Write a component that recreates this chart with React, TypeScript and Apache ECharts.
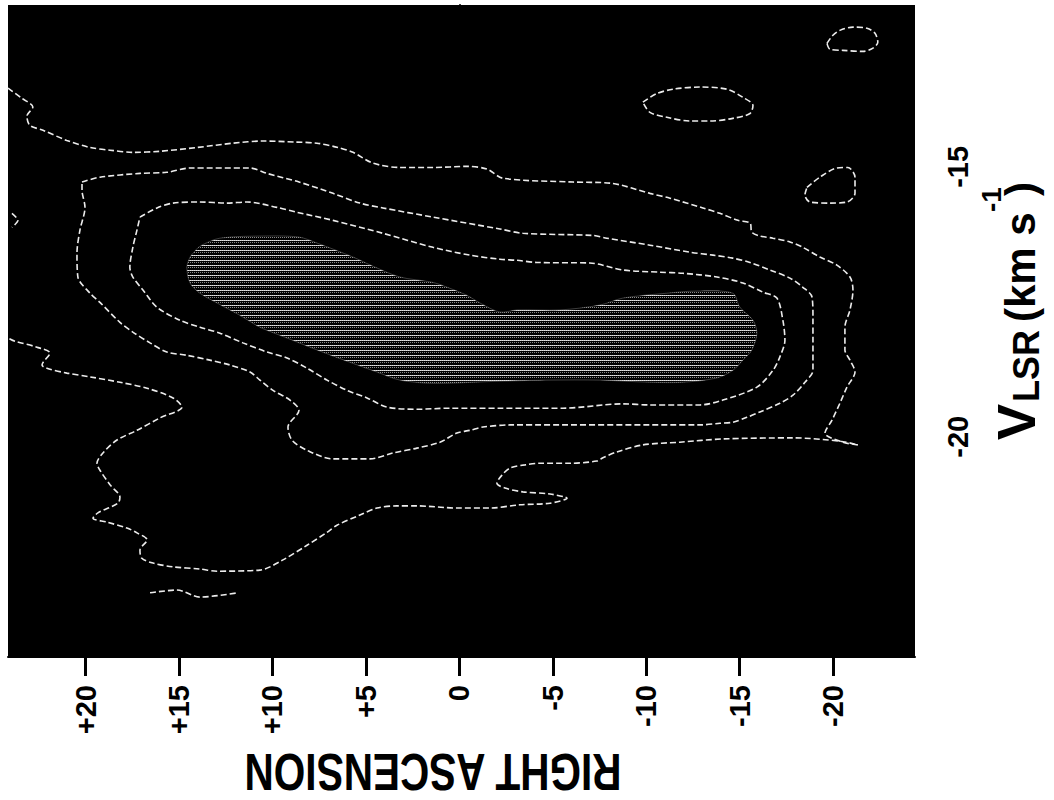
import { useEffect, useRef } from 'react';
import * as echarts from 'echarts';

type P = [number, number];

// Axis ticks (right ascension offset, LSR velocity in km/s)
const RA_TICKS = [20, 15, 10, 5, 0, -5, -10, -15, -20];
const VLSR_TICKS = [-20, -15];
const RA_MIN = -24.38;
const RA_MAX = 24.15;
const VLSR_MIN = -24.08;
const VLSR_MAX = -12.0;

// Lowest contour (open, leaves through the left edge)
const CONTOUR_OUTER: P[] = [
  [24.15, -13.54], [23.99, -13.58], [23.4, -13.73], [22.82, -13.89], [23.14, -14.06], [22.98, -14.23],
  [22.28, -14.32], [21.0, -14.51], [19.76, -14.64], [18.69, -14.69], [17.47, -14.73], [16.02, -14.71],
  [14.04, -14.64], [12.11, -14.56], [10.51, -14.52], [8.8, -14.54], [7.62, -14.56], [6.5, -14.64],
  [5.69, -14.73], [4.62, -14.93], [3.18, -15.01], [1.41, -15.01], [-0.41, -14.99], [-1.48, -15.04],
  [-2.33, -15.21], [-6.08, -15.28], [-8.06, -15.3], [-10.2, -15.49], [-11.27, -15.58], [-13.03, -15.76],
  [-13.94, -15.86], [-14.9, -15.99], [-15.55, -16.04], [-15.65, -16.21], [-16.08, -16.28], [-16.78, -16.32],
  [-17.69, -16.39], [-18.38, -16.49], [-19.29, -16.67], [-20.2, -16.82], [-20.9, -17.04], [-21.06, -17.28],
  [-20.9, -17.65], [-20.63, -17.97], [-20.63, -18.39], [-20.9, -18.58], [-21.17, -18.8], [-20.74, -19.08],
  [-20.36, -19.38], [-19.94, -19.69], [-19.56, -19.93], [-20.52, -20.1], [-21.33, -20.15], [-20.36, -20.08],
  [-17.85, -20.02], [-14.1, -20.04], [-11.8, -20.1], [-9.82, -20.15], [-8.43, -20.28], [-7.68, -20.39],
  [-7.36, -20.45], [-5.92, -20.49], [-4.31, -20.49], [-3.51, -20.52], [-2.71, -20.58], [-2.28, -20.71],
  [-2.01, -20.86], [-2.44, -20.95], [-3.4, -21.02], [-4.85, -21.06], [-5.76, -21.14], [-4.85, -21.23],
  [-3.24, -21.26], [-1.64, -21.32], [0.13, -21.32], [2.27, -21.28], [3.34, -21.28], [4.41, -21.32],
  [5.32, -21.45], [6.55, -21.64], [7.08, -21.77], [8.15, -22.01], [9.44, -22.28], [10.67, -22.47],
  [12.97, -22.49], [13.88, -22.45], [15.32, -22.41], [16.39, -22.34], [16.99, -22.25], [17.09, -22.1],
  [16.71, -21.91], [17.25, -21.78], [17.79, -21.69], [18.86, -21.58], [19.6, -21.51], [19.34, -21.41],
  [18.27, -21.23], [18.16, -21.12], [18.69, -20.89], [19.23, -20.62], [19.39, -20.49], [19.07, -20.3],
  [18.32, -20.06], [17.25, -19.88], [16.02, -19.65], [14.84, -19.45], [15.32, -19.28], [16.71, -19.1],
  [18.16, -18.99], [19.76, -18.89], [21.0, -18.82], [22.07, -18.73], [22.33, -18.67], [21.91, -18.45],
  [22.6, -18.34], [23.78, -18.23], [24.15, -18.17],
];

const FRAGMENT_LOW: P[] = [[16.55, -22.89], [15.11, -22.84], [13.88, -22.97], [11.85, -22.89]];
const FRAGMENT_EDGE: P[] = [[23.94, -15.86], [23.62, -15.99], [23.94, -16.12]];

const CONTOUR_MID: P[] = [
  [20.19, -15.28], [19.23, -15.19], [17.09, -15.12], [15.65, -15.1], [14.41, -15.02], [11.2, -15.02],
  [10.29, -15.12], [8.58, -15.28], [6.76, -15.49], [5.32, -15.67], [4.09, -15.76], [1.41, -15.93],
  [-2.17, -16.15], [-3.4, -16.23], [-7.15, -16.27], [-7.89, -16.32], [-10.2, -16.45], [-12.34, -16.58],
  [-13.57, -16.635], [-14.63, -16.69], [-15.55, -16.77], [-16.62, -16.91], [-17.69, -17.06], [-18.38, -17.23],
  [-18.87, -17.41], [-18.92, -17.78], [-18.92, -18.26], [-18.92, -18.77], [-18.49, -18.99], [-17.85, -19.23],
  [-17.15, -19.38], [-16.08, -19.54], [-15.38, -19.64], [-14.63, -19.73], [-13.94, -19.75], [-12.87, -19.78],
  [-2.71, -19.78], [-1.26, -19.82], [-0.57, -19.88], [0.13, -19.93], [1.04, -20.1], [2.27, -20.21],
  [3.55, -20.3], [4.78, -20.41], [6.76, -20.41], [8.15, -20.25], [8.96, -20.06], [9.17, -19.82],
  [8.58, -19.51], [9.06, -19.32], [9.97, -19.14], [10.67, -18.95], [11.2, -18.8], [12.27, -18.67],
  [13.35, -18.58], [14.58, -18.49], [15.65, -18.43], [16.55, -18.26], [17.47, -18.06], [18.16, -17.88],
  [19.23, -17.51], [19.76, -17.34], [20.41, -17.04], [20.46, -16.6], [20.3, -16.17], [20.03, -15.75],
  [20.19, -15.43],
];

const CONTOUR_INNER: P[] = [
  [17.09, -15.93], [16.18, -15.76], [15.32, -15.67], [13.88, -15.65], [12.44, -15.67], [11.36, -15.65],
  [9.76, -15.75], [8.69, -15.84], [6.76, -15.99], [4.09, -16.23], [1.41, -16.49], [-0.57, -16.635],
  [-2.17, -16.71], [-3.08, -16.73], [-4.15, -16.77], [-6.98, -16.78], [-8.75, -16.91], [-10.73, -16.95],
  [-11.96, -16.97], [-13.78, -17.04], [-15.17, -17.15], [-16.24, -17.32], [-16.99, -17.43], [-17.31, -17.84],
  [-17.42, -18.21], [-17.15, -18.52], [-16.78, -18.77], [-15.92, -19.08], [-14.1, -19.32], [-12.87, -19.41],
  [-10.2, -19.41], [-8.75, -19.39], [-5.54, -19.47], [-3.94, -19.47], [-2.17, -19.47], [0.5, -19.47],
  [2.27, -19.49], [3.87, -19.45], [4.94, -19.28], [6.01, -19.14], [7.08, -18.95], [8.15, -18.73],
  [9.22, -18.54], [10.29, -18.43], [11.58, -18.26], [12.81, -18.08], [13.88, -17.97], [14.95, -17.84],
  [16.18, -17.6], [16.93, -17.28], [17.47, -17.04], [17.63, -16.86], [17.47, -16.49], [17.25, -16.17],
];

const CORE_REGION: P[] = [
  [14.25, -16.6], [13.88, -16.47], [12.81, -16.32], [10.29, -16.28], [8.58, -16.3], [7.62, -16.41],
  [5.69, -16.67], [4.62, -16.84], [3.18, -17.04], [1.41, -17.14], [0.5, -17.25], [-0.41, -17.38],
  [-1.1, -17.52], [-2.17, -17.69], [-3.08, -17.65], [-5.38, -17.65], [-7.52, -17.56], [-8.75, -17.43],
  [-11.1, -17.34], [-12.71, -17.3], [-14.63, -17.34], [-15.01, -17.6], [-15.71, -17.84], [-15.92, -18.08],
  [-15.65, -18.39], [-15.17, -18.58], [-14.63, -18.77], [-13.78, -18.91], [-11.96, -18.99], [-10.2, -18.99],
  [-7.52, -18.95], [-4.85, -18.95], [-2.17, -18.97], [1.41, -19.01], [3.18, -18.95], [4.41, -18.8],
  [5.85, -18.62], [7.62, -18.39], [9.22, -18.17], [10.67, -17.97], [11.74, -17.75], [12.97, -17.52],
  [13.88, -17.34], [14.41, -17.15], [14.58, -16.86], [14.41, -16.67],
];

const ISLAND_TOP_RIGHT: P[] = [
  [-19.67, -12.71], [-19.99, -12.56], [-20.36, -12.47], [-21.06, -12.41], [-21.81, -12.43], [-22.23, -12.52],
  [-22.39, -12.69], [-22.13, -12.8], [-21.59, -12.86], [-20.52, -12.84], [-19.83, -12.82],
];
const ISLAND_UPPER: P[] = [
  [-9.82, -13.8], [-10.57, -13.64], [-11.43, -13.56], [-12.87, -13.52], [-14.31, -13.56], [-15.17, -13.71],
  [-15.71, -13.86], [-15.55, -14.01], [-14.63, -14.1], [-13.41, -14.15], [-12.34, -14.15], [-11.1, -14.08],
  [-10.2, -13.99],
];
const ISLAND_RIGHT: P[] = [
  [-18.6, -15.38], [-19.29, -15.19], [-20.2, -15.02], [-20.79, -15.01], [-21.17, -15.19], [-21.17, -15.49],
  [-20.74, -15.65], [-19.83, -15.67], [-18.76, -15.65], [-18.49, -15.52],
];

const closeRing = (a: P[]): P[] => [...a, a[0]];

const OPEN_LINES: P[][] = [CONTOUR_OUTER, FRAGMENT_LOW, FRAGMENT_EDGE];
const CLOSED_LINES: P[][] = [CONTOUR_MID, CONTOUR_INNER, ISLAND_TOP_RIGHT, ISLAND_UPPER, ISLAND_RIGHT];

export default function App() {
  const ref = useRef<HTMLDivElement>(null);

  useEffect(() => {
    if (!ref.current) return;
    const chart = echarts.init(ref.current, undefined, { renderer: 'svg' });

    const cv = document.createElement('canvas');
    cv.width = 2;
    cv.height = 5;
    const cx = cv.getContext('2d');
    if (cx) {
      cx.fillStyle = '#000';
      cx.fillRect(0, 0, 2, 5);
      cx.fillStyle = '#e6e6e6';
      cx.fillRect(0, 0, 1, 1);
      cx.fillStyle = '#bdbdbd';
      cx.fillRect(1, 0, 1, 1);
      cx.fillStyle = '#8a8a8a';
      cx.fillRect(0, 2, 1, 1);
    }
    const pattern: any = { image: cv.toDataURL(), repeat: 'repeat', imageWidth: 2, imageHeight: 5 };

    const lineStyle = { color: '#ececec', width: 1.6, type: [6, 3] as number[] };
    const lineSeries = [
      ...OPEN_LINES.map((d) => d),
      ...CLOSED_LINES.map((d) => closeRing(d)),
    ].map((d) => ({
      type: 'line',
      data: d,
      smooth: 0.3,
      showSymbol: false,
      symbol: 'none',
      silent: true,
      lineStyle,
      z: 3,
    }));

    const font = 'Liberation Sans';

    chart.setOption({
      animation: false,
      grid: {
        left: 8,
        top: 5,
        width: 907,
        height: 652,
        show: true,
        backgroundColor: '#000',
        borderWidth: 0,
      },
      xAxis: {
        type: 'value',
        min: RA_MIN,
        max: RA_MAX,
        inverse: true,
        position: 'bottom',
        axisLine: { show: true, lineStyle: { color: '#000', width: 2 } },
        axisTick: { show: true, customValues: RA_TICKS, length: 19, lineStyle: { color: '#000', width: 3 } },
        axisLabel: {
          show: true,
          customValues: RA_TICKS,
          rotate: 90,
          margin: 28,
          fontSize: 29,
          fontWeight: 'bold',
          fontFamily: font,
          color: '#000',
          formatter: (v: number) => (v > 0 ? '+' + v : String(v)),
        },
        splitLine: { show: false },
      },
      yAxis: {
        type: 'value',
        min: VLSR_MIN,
        max: VLSR_MAX,
        position: 'right',
        axisLine: { show: true, lineStyle: { color: '#000', width: 2 } },
        axisTick: { show: true, customValues: VLSR_TICKS, length: 17, lineStyle: { color: '#000', width: 2.5 } },
        axisLabel: {
          show: true,
          customValues: VLSR_TICKS,
          rotate: 90,
          margin: 28,
          fontSize: 29,
          fontWeight: 'bold',
          fontFamily: font,
          color: '#000',
          formatter: (v: number) => String(v),
        },
        splitLine: { show: false },
      },
      series: [
        {
          type: 'custom',
          coordinateSystem: 'cartesian2d',
          silent: true,
          z: 2,
          data: [CORE_REGION[0]],
          renderItem: (_params: any, api: any) => ({
            type: 'polygon',
            shape: { points: CORE_REGION.map((p) => api.coord(p)), smooth: 0.3 },
            style: { fill: pattern, stroke: 'rgba(200,200,200,0.3)', lineWidth: 1 },
          }),
        },
        ...lineSeries,
      ],
      graphic: [
        {
          type: 'text',
          x: 433,
          y: 772,
          rotation: Math.PI,
          scaleX: 0.78,
          style: {
            text: 'RIGHT ASCENSION',
            fontSize: 52,
            fontWeight: 'bold',
            fontFamily: font,
            fill: '#000',
            align: 'center',
            verticalAlign: 'middle',
          },
        },
        {
          type: 'text', x: 1043, y: 440, rotation: Math.PI / 2,
          style: { text: 'V', fontSize: 54, fontWeight: 'bold', fontFamily: font, fill: '#000', align: 'left', verticalAlign: 'bottom' },
        },
        {
          type: 'text', x: 1044, y: 402, rotation: Math.PI / 2,
          style: { text: 'LSR', fontSize: 36, fontWeight: 'bold', fontFamily: font, fill: '#000', align: 'left', verticalAlign: 'bottom' },
        },
        {
          type: 'text', x: 1041, y: 322, rotation: Math.PI / 2,
          style: { text: '(km s', fontSize: 42, fontWeight: 'bold', fontFamily: font, fill: '#000', align: 'left', verticalAlign: 'bottom' },
        },
        {
          type: 'text', x: 1005, y: 212, rotation: Math.PI / 2,
          style: { text: '-1', fontSize: 28, fontWeight: 'bold', fontFamily: font, fill: '#000', align: 'left', verticalAlign: 'bottom' },
        },
        {
          type: 'text', x: 1041, y: 196, rotation: Math.PI / 2,
          style: { text: ')', fontSize: 42, fontWeight: 'bold', fontFamily: font, fill: '#000', align: 'left', verticalAlign: 'bottom' },
        },
      ],
    });

    return () => {
      chart.dispose();
    };
  }, []);

  return (
    <div
      ref={ref}
      style={{ position: 'fixed', left: 0, top: 0, width: 1054, height: 800, background: '#fff' }}
    />
  );
}
